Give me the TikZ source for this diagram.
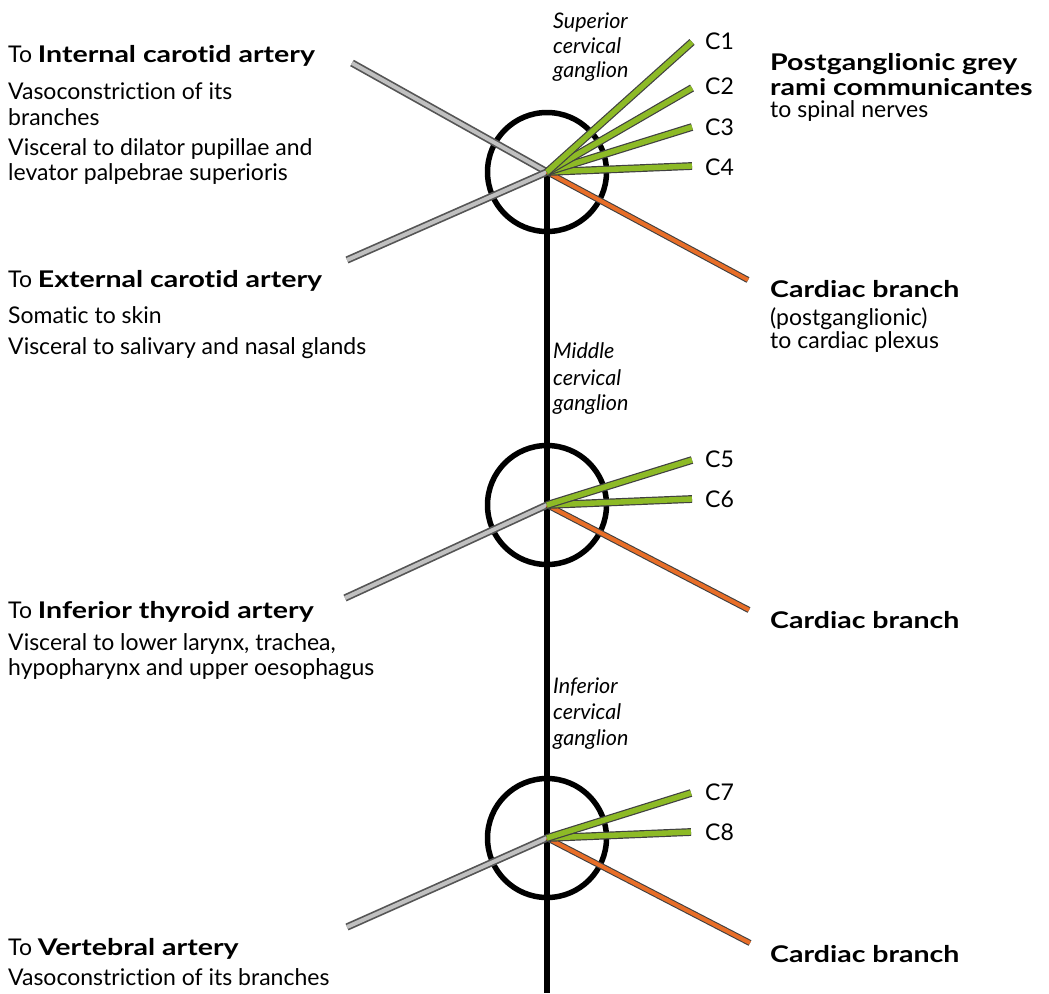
\documentclass[tikz,border=0pt]{standalone}
\usepackage{fontspec}
\setmainfont{Lato}[Ligatures={NoCommon,NoContextual}, BoldFeatures={FakeStretch=1.24}]
\definecolor{ramgreen}{RGB}{141,186,38}
\definecolor{cardorange}{RGB}{232,110,40}
\definecolor{greyin}{RGB}{192,192,192}
\definecolor{greyout}{RGB}{85,85,85}
\begin{document}
\begin{tikzpicture}[x=1pt,y=-1pt,
  ganglion/.style={circle, draw, line width=5.5, minimum size=119, inner sep=0pt},
  trunk/.style={line width=6},
  greyramus/.style={draw=greyout, line width=1.7, double=greyin, double distance=4},
  greenramus/.style={draw=black!75, line width=1.2, double=ramgreen, double distance=5.4},
  cardiac/.style={draw=black!75, line width=1.1, double=cardorange, double distance=4},
  txt/.style={anchor=base west, inner sep=0pt, font=\fontsize{23}{27}\selectfont},
  gname/.style={anchor=base west, inner sep=0pt, font=\fontsize{21.5}{26}\selectfont\itshape},
]
\useasboundingbox (0,0) rectangle (1049,993);

% ganglia
\node[ganglion] (sg) at (547,172) {};
\node[ganglion] (mg) at (547,505) {};
\node[ganglion] (ig) at (547,838) {};
\coordinate (bottom) at (547,993);

% endpoints
\coordinate (ic) at (352,63);
\coordinate (ec) at (347,260);
\coordinate (itl) at (345,598);
\coordinate (vl) at (347,927);
\coordinate (c1) at (692,42);
\coordinate (c2) at (692,88);
\coordinate (c3) at (692,127);
\coordinate (c4) at (692,166);
\coordinate (c5) at (692,460);
\coordinate (c6) at (692,499);
\coordinate (c7) at (691,793);
\coordinate (c8) at (691,832);
\coordinate (o1) at (748,280);
\coordinate (o2) at (749,610);
\coordinate (o3) at (750,943);

% sympathetic trunk
\draw[trunk] (sg.center) -- (bottom);

% grey branches to arteries
\draw[greyramus] (sg.center) -- (ic);
\draw[greyramus] (sg.center) -- (ec);
\draw[greyramus] (mg.center) -- (itl);
\draw[greyramus] (ig.center) -- (vl);

% cardiac branches
\draw[cardiac] (sg.center) -- (o1);
\draw[cardiac] (mg.center) -- (o2);
\draw[cardiac] (ig.center) -- (o3);

% grey rami communicantes
\foreach \c in {c4,c3,c2,c1} \draw[greenramus] (sg.center) -- (\c);
\foreach \c in {c6,c5} \draw[greenramus] (mg.center) -- (\c);
\foreach \c in {c8,c7} \draw[greenramus] (ig.center) -- (\c);

% ganglion names
\node[gname] (sgn1) at (553,28) {Superior};
\node[gname] (sgn2) at (553,53) {cervical};
\node[gname] (sgn3) at (553,77) {ganglion};
\node[gname] (mgn1) at (553,358) {Middle};
\node[gname] (mgn2) at (553,385) {cervical};
\node[gname] (mgn3) at (553,410) {ganglion};
\node[gname] (ign1) at (553,693) {Inferior};
\node[gname] (ign2) at (553,719) {cervical};
\node[gname] (ign3) at (553,745) {ganglion};

% C labels
\node[txt] (lc1) at (705,49) {C1};
\node[txt] (lc2) at (705,94) {C2};
\node[txt] (lc3) at (705,135) {C3};
\node[txt] (lc4) at (705,175) {C4};
\node[txt] (lc5) at (705,467) {C5};
\node[txt] (lc6) at (705,507) {C6};
\node[txt] (lc7) at (705,800) {C7};
\node[txt] (lc8) at (705,840) {C8};

% right labels
\node[txt] (pg1) at (770,70) {\textbf{Postganglionic grey}};
\node[txt] (pg2) at (770,95) {\textbf{rami communicantes}};
\node[txt] (pg3) at (770,117) {to spinal nerves};
\node[txt] (cb1) at (770,297) {\textbf{Cardiac branch}};
\node[txt] (cb2) at (770,325) {(postganglionic)};
\node[txt] (cb3) at (770,348) {to cardiac plexus};
\node[txt] (cb4) at (770,628) {\textbf{Cardiac branch}};
\node[txt] (cb5) at (770,962) {\textbf{Cardiac branch}};

% left labels
\node[txt] (ic1) at (8,62) {To \textbf{Internal carotid artery}};
\node[txt] (ic2) at (8,99) {Vasoconstriction of its};
\node[txt] (ic3) at (8,125) {branches};
\node[txt] (ic4) at (8,155) {Visceral to dilator pupillae and};
\node[txt] (ic5) at (8,180) {levator palpebrae superioris};
\node[txt] (ec1) at (8,287) {To \textbf{External carotid artery}};
\node[txt] (ec2) at (8,323) {Somatic to skin};
\node[txt] (ec3) at (8,354) {Visceral to salivary and nasal glands};
\node[txt] (it1) at (8,618) {To \textbf{Inferior thyroid artery}};
\node[txt] (it2) at (8,650) {Visceral to lower larynx, trachea,};
\node[txt] (it3) at (8,675) {hypopharynx and upper oesophagus};
\node[txt] (va1) at (8,955) {To \textbf{Vertebral artery}};
\node[txt] (va2) at (8,985) {Vasoconstriction of its branches};
\end{tikzpicture}
\end{document}
